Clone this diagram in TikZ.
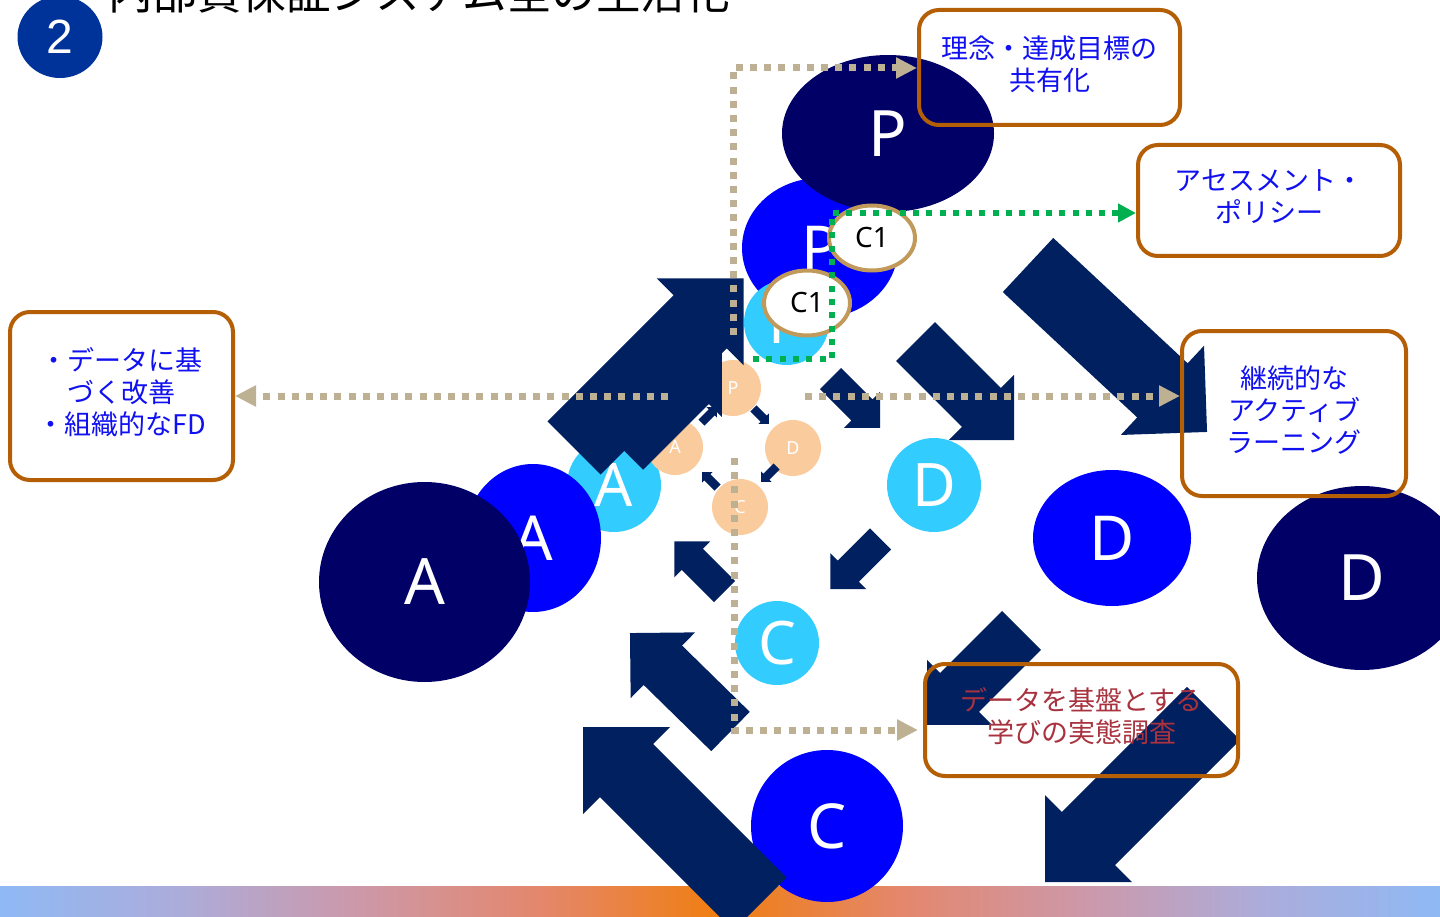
\documentclass[tikz,border=0pt]{standalone}
\usepackage{fontspec}
\usetikzlibrary{shapes.geometric,arrows.meta}
\newfontfamily\jpf{Noto Sans CJK JP}
\newfontfamily\latf{Noto Sans}
\newfontfamily\arf{Liberation Sans}
\definecolor{navy}{HTML}{002060}
\definecolor{dk}{HTML}{000066}
\definecolor{bl}{HTML}{0000FF}
\definecolor{lb}{HTML}{33CCFF}
\definecolor{org}{HTML}{FACB9C}
\definecolor{tanc}{HTML}{BDB093}
\definecolor{grn}{HTML}{00B050}
\definecolor{cone}{HTML}{C19A5B}
\definecolor{boxb}{HTML}{B45F06}
\definecolor{txtb}{HTML}{1010F0}
\definecolor{txtr}{HTML}{A8323E}
\definecolor{badgec}{HTML}{003399}
\definecolor{ga}{RGB}{143,185,245}
\definecolor{gb}{RGB}{172,172,218}
\definecolor{gc}{RGB}{205,152,168}
\definecolor{gd}{RGB}{228,135,108}
\definecolor{ge}{RGB}{240,126,16}
\tikzset{
  pics/barrow/.style n args={4}{code={
    \fill[navy] (0,-#2/2) -- (#1-#4,-#2/2) -- (#1-#4,-#3/2) -- (#1,0)
      -- (#1-#4,#3/2) -- (#1-#4,#2/2) -- (0,#2/2) -- cycle;
  }},
  dkc/.style={ellipse, fill=dk, text=white, inner sep=0pt, font=\latf\fontsize{64}{64}\selectfont},
  blc/.style={ellipse, fill=bl, text=white, inner sep=0pt, font=\latf\fontsize{62}{62}\selectfont},
  lbc/.style={ellipse, fill=lb, text=white, inner sep=0pt, font=\latf\fontsize{60}{60}\selectfont},
  orc/.style={circle, fill=org, text=white, inner sep=0pt, minimum size=56pt, font=\latf\fontsize{18}{18}\selectfont},
  conec/.style={ellipse, draw=cone, line width=4pt, fill=white, inner sep=0pt, minimum width=86pt, minimum height=65pt, font=\latf\fontsize{28}{28}\selectfont},
  tandot/.style={draw=tanc, line width=7pt, dash pattern=on 7pt off 7.2pt, -{Triangle[length=21pt,width=20pt]}},
  grndot/.style={draw=grn, line width=6pt, dash pattern=on 6pt off 7.3pt, -{Triangle[length=18pt,width=18pt]}},
  infobox/.style={draw=boxb, line width=4pt, rounded corners=20pt, inner sep=0pt},
  boxtext/.style={align=center, inner sep=0pt, font=\jpf\fontsize{27}{32}\selectfont, text=txtb},
}
\begin{document}
\begin{tikzpicture}[x=1pt,y=-1pt]
\useasboundingbox (0,0) rectangle (1440,917);
\clip (0,0) rectangle (1440,917);
\fill[white] (0,0) rectangle (1440,917);
% gradient bar
\fill[left color=ga, right color=gb] (0,886) rectangle (180.5,917);
\fill[left color=gb, right color=gc] (180,886) rectangle (360.5,917);
\fill[left color=gc, right color=gd] (360,886) rectangle (540.5,917);
\fill[left color=gd, right color=ge] (540,886) rectangle (720.5,917);
\fill[left color=ge, right color=gd] (720,886) rectangle (900.5,917);
\fill[left color=gd, right color=gc] (900,886) rectangle (1080.5,917);
\fill[left color=gc, right color=gb] (1080,886) rectangle (1260.5,917);
\fill[left color=gb, right color=ga] (1260,886) rectangle (1440,917);
% title and badge
\node[anchor=base west, inner sep=0pt, font=\jpf\fontsize{44.5}{44.5}\selectfont] (title) at (108,10) {内部質保証システム全の生活化};
\node[ellipse, fill=badgec, text=white, inner sep=0pt, minimum width=85pt, minimum height=82pt, font=\arf\fontsize{48}{48}\selectfont] (badge) at (60,37) {2};
% circles
\node[blc, minimum width=156pt, minimum height=140pt] (bP) at (820,248) {P};
\node[lbc, minimum width=85pt, minimum height=85pt] (lP) at (786.5,322.5) {P};
\node[dkc, minimum width=212pt, minimum height=157pt] (dP) at (888,133.5) {P};
\node[lbc, minimum width=94pt, minimum height=94pt] (lA) at (614,485) {A};
\node[blc, minimum width=136pt, minimum height=148pt] (bA) at (533,538) {A};
\node[dkc, minimum width=211pt, minimum height=200pt] (dA) at (424.5,582) {A};
\node[blc, minimum width=158pt, minimum height=136pt] (bD) at (1112,538) {D};
\node[lbc, minimum width=94pt, minimum height=94pt] (lD) at (934,485) {D};
\node[dkc, minimum width=210pt, minimum height=184pt] (dD) at (1362,578) {D};
\node[blc, minimum width=152pt, minimum height=152pt] (bC) at (827,826) {C};
\node[lbc, minimum width=84pt, minimum height=84pt] (lC) at (777,643) {C};
\node[orc] (oP) at (733,388) {P};
\node[orc] (oD) at (793,448) {D};
\node[orc] (oC) at (740,507) {C};
\node[orc] (oA) at (675,447) {A};
% tier 1 arrows
\pic[rotate=-45] at (753.4,408.4) {barrow={22}{8.5}{15}{7.5}};
\pic[rotate=-135] at (776.6,466.4) {barrow={22}{8.5}{15}{7.5}};
\pic[rotate=135] at (717.6,487.6) {barrow={22}{8.5}{15}{7.5}};
\pic[rotate=45] at (701.4,422.6) {barrow={22}{8.5}{15}{7.5}};
% tier 2 arrows
\pic[rotate=-45] at (830.5,378.5) {barrow={70}{30}{51}{25.5}};
\pic[rotate=-135] at (880.5,539) {barrow={71}{30}{51}{25.5}};
\pic[rotate=135] at (724.5,591.5) {barrow={71}{30}{51}{25.5}};
% tier 3 arrows
\pic[rotate=-45] at (915.5,341.5) {barrow={139.3}{55}{92}{46}};
\pic[rotate=-135] at (1021.5,630.5) {barrow={133.6}{55}{92}{46}};
\pic[rotate=135.6] at (730.5,731.5) {barrow={140.7}{55}{92}{46}};
\pic[rotate=45] at (623.7,450.3) {barrow={139}{55}{92}{46}};
% tier 4 arrows
\pic[rotate=45] at (574,448) {barrow={240}{75}{123}{61.5}};
\pic[rotate=-43] at (1028,265) {barrow={244.8}{74}{122}{61}};
\pic[rotate=-135] at (1213.5,713.5) {barrow={238.3}{75}{123}{61.5}};
\pic[rotate=135] at (760,904) {barrow={250.3}{75}{123}{61.5}};
% boxes
\node[infobox, minimum width=261pt, minimum height=115pt] (b1) at (1049.5,67.5) {};
\node[boxtext] (b1t) at ([yshift=3.5pt]b1.center) {理念・達成目標の\\共有化};
\node[infobox, minimum width=262pt, minimum height=111pt] (b2) at (1269,200.5) {};
\node[boxtext] (b2t) at ([yshift=3.5pt]b2.center) {アセスメント・\\ポリシー};
\node[infobox, minimum width=223pt, minimum height=168pt] (b3) at (121.5,396) {};
\node[boxtext] (b3t) at ([yshift=3.5pt]b3.center) {・データに基\\づく改善\\・組織的なFD};
\node[infobox, minimum width=224pt, minimum height=165pt] (b4) at (1294,413.5) {};
\node[boxtext] (b4t) at ([yshift=3.5pt]b4.center) {継続的な\\アクティブ\\ラーニング};
\node[infobox, minimum width=313pt, minimum height=112pt] (b5) at (1081.5,720) {};
\node[boxtext, text=txtr] (b5t) at ([yshift=3.5pt]b5.center) {データを基盤とする\\学びの実態調査};
% tan dotted connectors
\coordinate (t1s) at (733,335);
\coordinate (t1e) at (917,68);
\draw[tandot] (t1s) |- (t1e);
\coordinate (t2s) at (668,396);
\draw[tandot] (t2s) -- (t2s -| b3.east);
\coordinate (t3s) at (805,396);
\draw[tandot] (t3s) -- (t3s -| b4.west);
\coordinate (t4s) at (734,458);
\coordinate (t4e) at (918,730);
\draw[tandot] (t4s) |- (t4e);
% C1 ellipses
\node[conec] (c1a) at (872,238) {C1};
\node[conec] (c1b) at (807,303) {C1};
% green dotted connector
\coordinate (g1) at (753,359);
\coordinate (g2) at (832,359);
\coordinate (g3) at (1136,213);
\draw[grndot] (g1) -- (g2) |- (g3);
\end{tikzpicture}
\end{document}
